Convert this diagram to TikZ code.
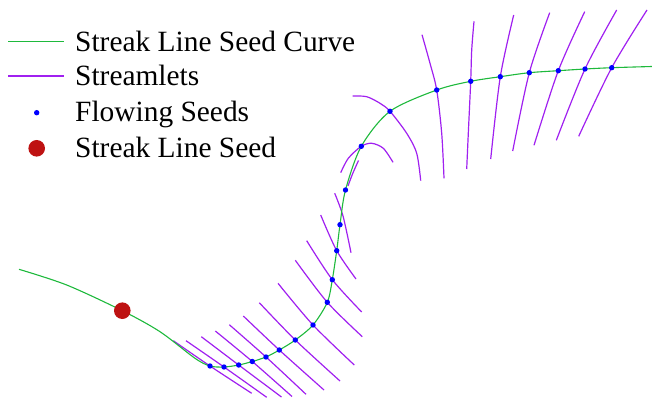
\documentclass[tikz,border=0pt]{standalone}
\usepackage{fontspec}
\setmainfont{Liberation Serif}
\definecolor{seedgreen}{RGB}{30,185,60}
\definecolor{streampurple}{RGB}{160,32,240}
\definecolor{seedred}{RGB}{190,18,18}
\definecolor{flowblue}{RGB}{0,0,255}
\begin{document}
\begin{tikzpicture}[x=1pt,y=-1pt,
  seedcurve/.style={draw=seedgreen,line width=1.1pt},
  streamlet/.style={draw=streampurple,line width=1.2pt},
  bluedot/.style={circle,fill=flowblue,inner sep=0pt,minimum size=5.4pt},
  reddot/.style={circle,fill=seedred,inner sep=0pt,minimum size=16.6pt},
  legendtext/.style={anchor=base west,inner sep=0pt,font=\fontsize{29.4}{35}\selectfont}]
\useasboundingbox (0,0) rectangle (652,398);

% streamlets
\draw[streamlet] plot[smooth] coordinates {(173.3,340.7) (210,366) (251.7,393.3)};
\draw[streamlet] plot[smooth] coordinates {(186,340.7) (224,367) (266.7,397.3)};
\draw[streamlet] plot[smooth] coordinates {(201.3,336.7) (238.7,365) (281.5,397)};
\draw[streamlet] plot[smooth] coordinates {(215.3,331) (252.3,361.5) (292,396.5)};
\draw[streamlet] plot[smooth] coordinates {(229.3,324.7) (266,357) (306,394.3)};
\draw[streamlet] plot[smooth] coordinates {(243.3,316) (279.3,350) (324,390)};
\draw[streamlet] plot[smooth] coordinates {(259.3,302.7) (295.3,340) (340,381)};
\draw[streamlet] plot[smooth] coordinates {(278,283.3) (313,325) (354.3,365)};
\draw[streamlet] plot[smooth] coordinates {(295.3,260.3) (327.3,302.3) (362.3,336.7)};
\draw[streamlet] plot[smooth] coordinates {(306.7,240.7) (332.3,279.7) (361.7,312)};
\draw[streamlet] plot[smooth] coordinates {(320.7,215) (336.7,250.7) (356,279)};
\draw[streamlet] plot[smooth] coordinates {(334.7,193.3) (343,216) (351,252.7)};
\draw[streamlet] plot[smooth] coordinates {(358.5,160.5) (352.5,174) (348,186)};
\draw[streamlet] plot[smooth] coordinates {(340.7,172.7) (348.3,158.3) (361.3,146.3) (371.7,143.3) (383.3,148.3) (393,162.3)};
\draw[streamlet] plot[smooth] coordinates {(352.7,96) (366.7,96.7) (380,103.3) (390,111.3) (406.7,133.3) (416.7,153.3) (420.7,180.7)};
\draw[streamlet] plot[smooth] coordinates {(422,34.7) (430,63.3) (436.7,90) (441.7,133.3) (444,178.3)};
\draw[streamlet] plot[smooth] coordinates {(474,21.3) (471.7,50) (470.7,81.3) (468.3,133.3) (466.7,169)};
\draw[streamlet] plot[smooth] coordinates {(513.7,15) (500.3,76.7) (490.7,159)};
\draw[streamlet] plot[smooth] coordinates {(549.7,12.7) (529.3,72.7) (512.7,151)};
\draw[streamlet] plot[smooth] coordinates {(584.7,11.7) (558.3,70.7) (534,145.3)};
\draw[streamlet] plot[smooth] coordinates {(616.7,10) (585,69) (556.3,140.3)};
\draw[streamlet] plot[smooth] coordinates {(647,10) (611.7,67.7) (578.7,136.3)};

% seed curve
\draw[seedcurve] plot[smooth] coordinates {(19,269.3) (66.7,285) (122.3,310.7) (160,331.7) (195,358.3) (210,366) (224,367) (238.7,365) (252.3,361.5) (266,357) (279.3,350) (295.3,340) (313,325) (327.3,302.3) (332.3,279.7) (336.7,250.7) (340,224.7) (345.5,190) (361.3,146.3) (390,111.3) (436.7,90) (470.7,81.3) (500.3,76.7) (529.3,72.7) (558.3,70.7) (585,69) (611.7,67.7) (652,66.5)};

% flowing seeds
\foreach \px/\py [count=\i] in {210/366, 224/367, 238.7/365, 252.3/361.5, 266/357, 279.3/350, 295.3/340, 313/325, 327.3/302.3, 332.3/279.7, 336.7/250.7, 340/224.7, 345.5/190, 361.3/146.3, 390/111.3, 436.7/90, 470.7/81.3, 500.3/76.7, 529.3/72.7, 558.3/70.7, 585/69, 611.7/67.7}
  \node[bluedot] (fs\i) at (\px,\py) {};

% streak line seed
\node[reddot] (seed) at (122.3,310.7) {};

% legend
\coordinate (lg1a) at (8.3,41.3);
\coordinate (lg1b) at (64.3,41.3);
\coordinate (lg2a) at (8.3,76);
\coordinate (lg2b) at (64.3,76);
\draw[seedcurve] (lg1a) -- (lg1b);
\draw[streamlet] (lg2a) -- (lg2b);
\node[bluedot] (lg3) at (36.7,112.7) {};
\node[reddot] (lg4) at (36.7,148.3) {};
\node[legendtext] (t1) at (75,51.7) {Streak Line Seed Curve};
\node[legendtext] (t2) at (75,86) {Streamlets};
\node[legendtext] (t3) at (75,121.7) {Flowing Seeds};
\node[legendtext] (t4) at (75,157.3) {Streak Line Seed};
\end{tikzpicture}
\end{document}
